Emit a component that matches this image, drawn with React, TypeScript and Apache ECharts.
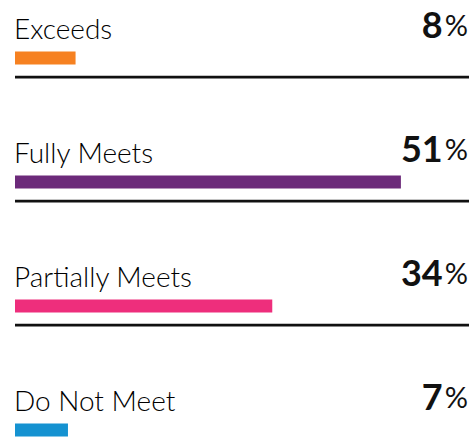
import React, { useEffect, useRef } from "react";
import * as echarts from "echarts";

const categories = ["Exceeds", "Fully Meets", "Partially Meets", "Do Not Meet"];
const values = [8, 51, 34, 7];
const colors = ["#F68121", "#6C2A7A", "#EE2E7C", "#1592D1"];
const xMax = 60;

const FONT = "Lato, 'Noto Sans', sans-serif";

export default function App() {
  const ref = useRef<HTMLDivElement>(null);
  useEffect(() => {
    if (!ref.current) return;
    const chart = echarts.init(ref.current, null, { renderer: "svg" });
    chart.setOption({
      animation: false,
      backgroundColor: "#ffffff",
      grid: { left: 15, right: 5, top: -4, bottom: -46, outerBoundsMode: "none", containLabel: false },
      xAxis: { type: "value", min: 0, max: xMax, show: false },
      yAxis: { type: "category", data: categories, inverse: true, show: false },
      series: [
        {
          type: "custom",
          clip: false,
          data: values.map((v, i) => [i, v]),
          encode: { x: 1, y: 0 },
          renderItem: (params: any, api: any) => {
            const idx = api.value(0);
            const val = api.value(1);
            const start = api.coord([0, idx]);
            const end = api.coord([val, idx]);
            const far = api.coord([xMax, idx]);
            const yc = start[1];
            return {
              type: "group",
              children: [
                {
                  type: "rect",
                  shape: { x: start[0], y: yc - 6.5, width: end[0] - start[0], height: 13 },
                  style: { fill: colors[idx] },
                },
                {
                  type: "text",
                  style: {
                    text: categories[idx],
                    x: start[0] - 1,
                    y: yc - 16.5,
                    align: "left",
                    verticalAlign: "bottom",
                    fontFamily: FONT,
                    fontSize: 28,
                    fontWeight: 300,
                    fill: "#000000",
                  },
                },
                {
                  type: "text",
                  style: {
                    text: "{v|" + val + "}{p|%}",
                    x: far[0] - 1,
                    y: yc - 16,
                    align: "right",
                    verticalAlign: "bottom",
                    rich: {
                      v: { fontFamily: FONT, fontSize: 36, fontWeight: 700, fill: "#111111", color: "#111111" },
                      p: { fontFamily: FONT, fontSize: 29, fontWeight: 400, fill: "#111111", color: "#111111", padding: [0, 0, 0, 2] },
                    },
                  },
                },
                {
                  type: "rect",
                  shape: { x: start[0], y: yc + 17.8, width: far[0] - start[0], height: 2.6 },
                  style: { fill: "#111111" },
                },
              ],
            };
          },
        },
      ],
    });
    return () => chart.dispose();
  }, []);
  return (
    <div
      ref={ref}
      style={{ position: "fixed", left: 0, top: 0, width: 474, height: 446 }}
    />
  );
}
